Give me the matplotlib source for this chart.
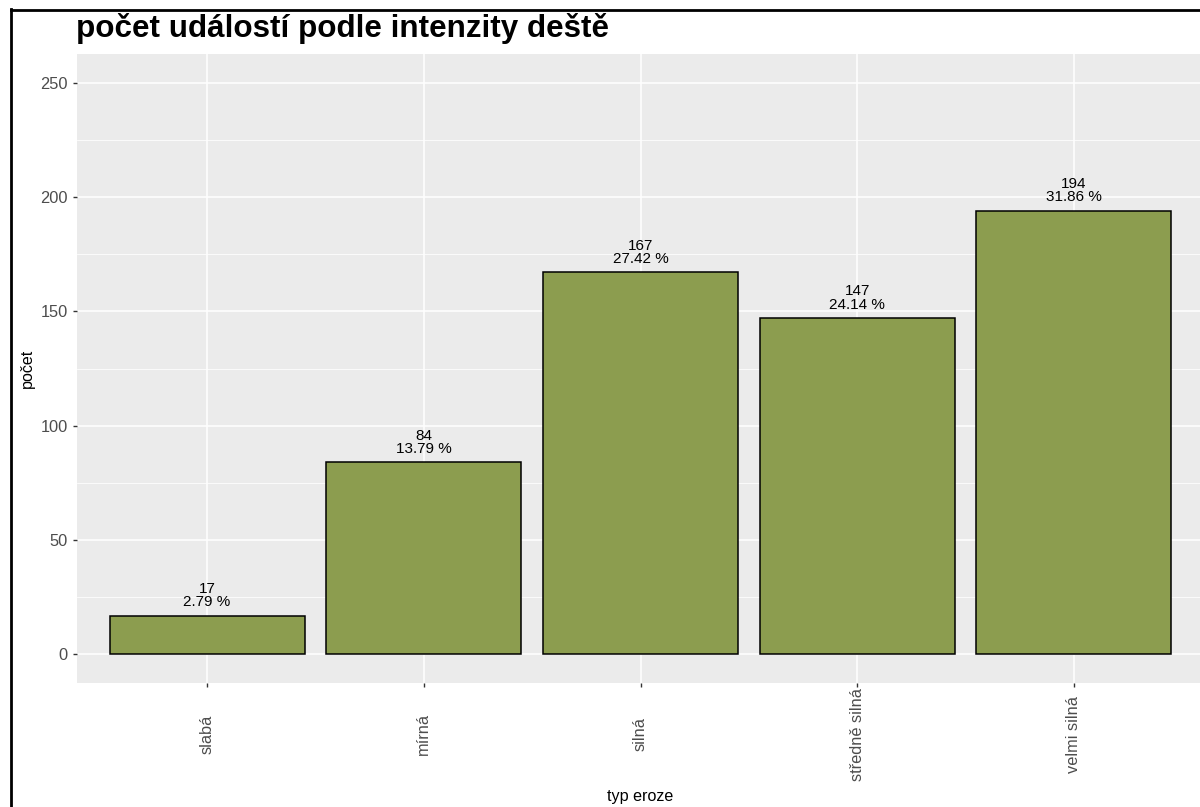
import matplotlib
matplotlib.use("Agg")
import matplotlib.pyplot as plt
from matplotlib.lines import Line2D
import numpy as np

plt.rcParams['font.family'] = ['Liberation Sans', 'DejaVu Sans']

# Rain-intensity categories and event counts
categories = ["slabá", "mírná", "silná", "středně silná", "velmi silná"]
counts = [17, 84, 167, 147, 194]
percents = [2.79, 13.79, 27.42, 24.14, 31.86]
y_ticks = [0, 50, 100, 150, 200, 250]

W, H = 1200, 807
fig = plt.figure(figsize=(W / 100, H / 100), dpi=100)
fig.patch.set_facecolor("white")

left, right, top, bottom = 77, 1204, 54, 683
ax = fig.add_axes([left / W, 1 - bottom / H, (right - left) / W, (bottom - top) / H])
ax.set_facecolor("#EBEBEB")

x = np.arange(len(categories))
ax.bar(x, counts, width=0.9, color="#8C9D4F", edgecolor="black", linewidth=1.1, zorder=3)

for xi, c, p in zip(x, counts, percents):
    ax.annotate(f"{c}\n{p:.2f} %", (xi, c), xytext=(0, 4.5), textcoords="offset points",
                ha="center", va="bottom", fontsize=11, color="black",
                linespacing=0.95, zorder=4)

ax.set_xlim(-0.6, len(categories) - 1 + 0.6)
ax.set_ylim(-12.5, 262.5)
ax.set_yticks(y_ticks)
ax.set_yticks([25, 75, 125, 175, 225], minor=True)
ax.set_xticks(x)
ax.set_xticklabels(categories, rotation=90, va="center", ha="center")
ax.tick_params(axis="x", which="major", length=3, width=1, color="#333333",
               labelsize=11.8, labelcolor="#4D4D4D", pad=34)
ax.tick_params(axis="y", which="major", length=3, width=1, color="#333333",
               labelsize=11.8, labelcolor="#4D4D4D", pad=3.5)
ax.tick_params(axis="y", which="minor", length=0)

ax.grid(True, which="major", color="white", linewidth=1.1, zorder=0)
ax.grid(True, which="minor", axis="y", color="white", linewidth=0.55, zorder=0)
ax.set_axisbelow(True)
for s in ax.spines.values():
    s.set_visible(False)

fig.text(27 / W, 1 - 368 / H, "počet", rotation=90, ha="center", va="center",
         fontsize=11.6, color="black")
fig.text(640 / W, 1 - 797 / H, "typ eroze", ha="center", va="center",
         fontsize=11.6, color="black")
fig.text(76 / W, 1 - 37 / H, "počet událostí podle intenzity deště", ha="left",
         va="baseline", fontsize=22.6, fontweight="bold", color="black")

# Outer frame on the top and left edges
fig.add_artist(Line2D([10.5 / W, 10.5 / W], [0, 1 - 9 / H], transform=fig.transFigure,
                      color="black", linewidth=2))
fig.add_artist(Line2D([10.5 / W, 1], [1 - 10 / H, 1 - 10 / H], transform=fig.transFigure,
                      color="black", linewidth=2))

fig.savefig("out.png", dpi=100)
